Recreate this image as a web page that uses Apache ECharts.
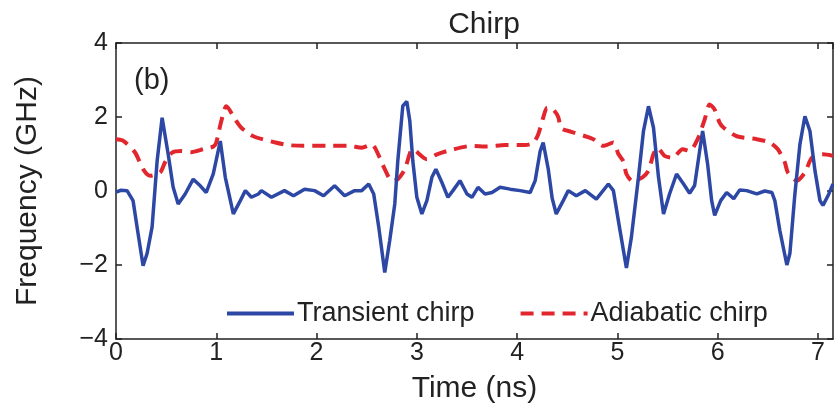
<!DOCTYPE html>
<html>
<head>
<meta charset="utf-8">
<script src="https://cdn.jsdelivr.net/npm/echarts@6/dist/echarts.min.js"></script>
<style>html,body{margin:0;padding:0;background:#fff}#c{width:834px;height:409px}</style>
</head>
<body>
<div id="c"></div>
<script>
// Transient chirp (blue, solid)
var transientT = [0.00,0.05,0.11,0.17,0.22,0.27,0.31,0.36,0.41,0.46,0.52,0.57,0.62,0.69,0.77,0.84,0.90,0.97,1.04,1.09,1.17,1.24,1.29,1.35,1.42,1.45,1.55,1.68,1.77,1.88,1.98,2.07,2.18,2.28,2.38,2.45,2.52,2.57,2.62,2.68,2.73,2.78,2.81,2.86,2.90,2.93,2.96,3.00,3.05,3.10,3.15,3.19,3.25,3.31,3.36,3.43,3.50,3.55,3.61,3.68,3.75,3.83,3.93,4.03,4.13,4.18,4.23,4.26,4.31,4.35,4.39,4.46,4.51,4.59,4.68,4.79,4.91,4.96,5.02,5.09,5.14,5.21,5.26,5.31,5.36,5.41,5.46,5.52,5.59,5.66,5.72,5.77,5.82,5.85,5.90,5.94,5.97,6.03,6.09,6.16,6.22,6.29,6.39,6.47,6.54,6.57,6.62,6.69,6.72,6.77,6.82,6.87,6.92,6.97,7.02,7.05,7.10,7.15];
var transientF = [-0.03,0.02,0.01,-0.26,-1.15,-2.02,-1.69,-0.97,0.81,1.98,1.0,0.1,-0.35,-0.08,0.32,0.14,-0.04,0.46,1.35,0.37,-0.62,-0.26,0.01,-0.17,-0.08,0.01,-0.17,0.01,-0.13,0.05,0.01,-0.13,0.14,-0.13,0.01,0.01,0.19,-0.08,-0.97,-2.2,-1.33,-0.35,0.81,2.3,2.42,1.89,0.81,-0.17,-0.62,-0.26,0.37,0.59,0.23,-0.17,0.01,0.28,-0.08,-0.17,0.10,-0.08,-0.04,0.10,0.05,0.01,-0.04,0.28,1.08,1.31,0.6,-0.2,-0.62,-0.26,0.01,-0.13,0.01,-0.22,0.19,0.01,-0.97,-2.08,-1.24,0.37,1.62,2.29,1.71,0.37,-0.62,-0.08,0.46,0.19,-0.06,0.15,1.08,1.62,0.72,-0.26,-0.66,-0.26,-0.04,-0.21,0.03,0.01,-0.08,0.0,-0.04,-0.26,-1.07,-2.0,-1.69,-0.08,1.26,2.02,1.62,0.55,-0.26,-0.39,-0.13,0.19];
// Adiabatic chirp (red, dashed)
var adiabaticT = [0.00,0.07,0.19,0.27,0.34,0.44,0.49,0.56,0.65,0.75,0.87,0.97,1.00,1.05,1.10,1.19,1.25,1.37,1.59,1.72,1.87,2.14,2.32,2.45,2.55,2.63,2.68,2.75,2.81,2.88,2.96,3.10,3.20,3.33,3.55,3.70,3.88,4.08,4.16,4.21,4.26,4.30,4.36,4.41,4.44,4.54,4.68,4.76,4.86,4.96,5.01,5.06,5.09,5.15,5.25,5.31,5.36,5.40,5.47,5.55,5.65,5.72,5.80,5.87,5.92,5.97,6.02,6.06,6.19,6.39,6.52,6.60,6.67,6.70,6.79,6.87,6.94,7.05,7.15];
var adiabaticF = [1.40,1.36,1.04,0.59,0.41,0.50,0.78,1.04,1.08,1.05,1.13,1.20,1.31,1.89,2.29,1.93,1.71,1.48,1.31,1.24,1.22,1.22,1.22,1.17,1.26,0.90,0.59,0.28,0.32,0.59,1.13,0.86,0.99,1.10,1.22,1.20,1.24,1.24,1.30,1.53,1.98,2.25,2.20,2.00,1.70,1.60,1.48,1.40,1.22,1.31,1.00,0.80,0.46,0.27,0.37,0.55,1.00,1.17,0.95,0.90,1.13,1.08,1.40,1.93,2.34,2.20,1.84,1.71,1.48,1.40,1.31,1.13,0.77,0.50,0.28,0.50,0.90,0.99,0.95];
var xTicks = [0,1,2,3,4,5,6,7];
var yTicks = [-4,-2,0,2,4];
var seriesNames = ['Transient chirp','Adiabatic chirp'];

function pairs(t,f){var o=[];for(var i=0;i<t.length;i++)o.push([t[i],f[i]]);return o;}

var FONT = '"Liberation Sans", Arial, Helvetica, sans-serif';
var axisColor = '#222';
var chart = echarts.init(document.getElementById('c'), null, {renderer:'canvas'});
var common = {
  axisLine:{show:true,onZero:false,lineStyle:{color:axisColor,width:1.5}},
  axisTick:{show:true,inside:true,length:6,lineStyle:{color:axisColor,width:1.5}},
  splitLine:{show:false}
};
function fmtX(v){return xTicks.indexOf(v)>=0 ? String(v) : '';}
function fmtY(v){return yTicks.indexOf(v)>=0 ? (v<0?'\u2212'+(-v):String(v)) : '';}
chart.setOption({
  animation:false,
  backgroundColor:'#fff',
  title:{text:'Chirp',left:479,top:5,textAlign:'center',textStyle:{fontFamily:FONT,fontSize:30,fontWeight:'normal',color:'#222'}},
  grid:{left:116,right:1,top:43,bottom:68},
  legend:{
    left:220,top:295,itemWidth:67,itemHeight:14,itemGap:44,
    data:seriesNames,
    itemStyle:{opacity:0},
    lineStyle:{width:4},
    textStyle:{fontFamily:FONT,fontSize:27,color:'#222',padding:[0,0,0,-2]}
  },
  graphic:[{type:'text',left:134,top:66,style:{text:'(b)',font:'29px '+FONT,fill:'#222'}}],
  xAxis:[
    Object.assign({type:'value',min:0,max:7.15,interval:1,position:'bottom',
      name:'Time (ns)',nameLocation:'middle',nameGap:35,
      nameTextStyle:{fontFamily:FONT,fontSize:30,color:'#222'},
      axisLabel:{show:true,formatter:fmtX,fontFamily:FONT,fontSize:25,color:'#222',margin:2,showMaxLabel:false}},common),
    Object.assign({type:'value',min:0,max:7.15,interval:1,position:'top',axisLabel:{show:false}},common)
  ],
  yAxis:[
    Object.assign({type:'value',min:-4,max:4,interval:2,position:'left',
      name:'Frequency (GHz)',nameLocation:'middle',nameGap:73,
      nameTextStyle:{fontFamily:FONT,fontSize:30,color:'#222'},
      axisLabel:{show:true,formatter:fmtY,fontFamily:FONT,fontSize:25,color:'#222',margin:8}},common),
    Object.assign({type:'value',min:-4,max:4,interval:2,position:'right',axisLabel:{show:false}},common)
  ],
  series:[
    {name:seriesNames[0],type:'line',data:pairs(transientT,transientF),symbol:'none',smooth:false,
      lineStyle:{color:'#2d47a5',width:3.5},itemStyle:{color:'#2d47a5'},z:3},
    {name:seriesNames[1],type:'line',data:pairs(adiabaticT,adiabaticF),symbol:'none',smooth:0.25,
      lineStyle:{color:'#e2262e',width:4,type:[13,8]},itemStyle:{color:'#e2262e'},z:2}
  ]
});
</script>
</body>
</html>
